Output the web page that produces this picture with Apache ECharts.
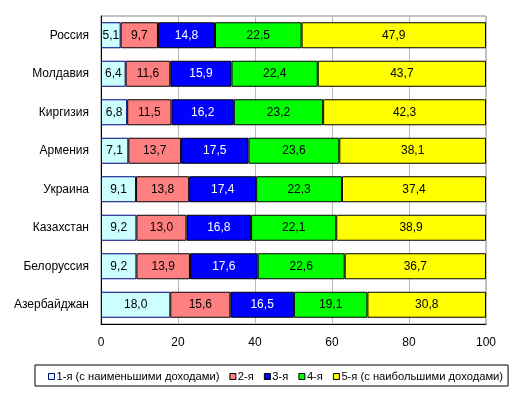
<!DOCTYPE html>
<html><head><meta charset="utf-8">
<script src="https://cdn.jsdelivr.net/npm/echarts@6/dist/echarts.min.js"></script>
<style>html,body{margin:0;padding:0;background:#fff}#c{width:513px;height:395px}</style>
</head><body><div id="c"></div>
<script>
var categories = ['Россия','Молдавия','Киргизия','Армения','Украина','Казахстан','Белоруссия','Азербайджан'];
var seriesNames = ['1-я (с наименьшими доходами)','2-я','3-я','4-я','5-я (с наибольшими доходами)'];
var q1 = [5.1, 6.4, 6.8, 7.1, 9.1, 9.2, 9.2, 18.0];
var q2 = [9.7, 11.6, 11.5, 13.7, 13.8, 13.0, 13.9, 15.6];
var q3 = [14.8, 15.9, 16.2, 17.5, 17.4, 16.8, 17.6, 16.5];
var q4 = [22.5, 22.4, 23.2, 23.6, 22.3, 22.1, 22.6, 19.1];
var q5 = [47.9, 43.7, 42.3, 38.1, 37.4, 38.9, 36.7, 30.8];
var xTicks = [0, 20, 40, 60, 80, 100];

var values = [q1, q2, q3, q4, q5];
var colors = ['#CCFFFF', '#FF8080', '#0000FF', '#00FF00', '#FFFF00'];
var borders = ['#000080', '#000000', '#000000', '#000000', '#000000'];
var labelColors = ['#000', '#000', '#fff', '#000', '#000'];
var font = 'Arial, "Liberation Sans", sans-serif';

var chart = echarts.init(document.getElementById('c'), null, {renderer: 'canvas'});
chart.setOption({
  animation: false,
  textStyle: {fontFamily: font},
  grid: {left: 101, right: 27, top: 16, bottom: 71, show: true, borderColor: '#888', borderWidth: 1},
  xAxis: {
    type: 'value', min: xTicks[0], max: xTicks[xTicks.length - 1], interval: 20,
    axisLine: {show: true, lineStyle: {color: '#000'}},
    axisTick: {show: false},
    axisLabel: {color: '#000', fontSize: 12, fontFamily: font, margin: 13},
    splitLine: {show: true, lineStyle: {color: '#BBBBBB'}}
  },
  yAxis: {
    type: 'category', data: categories, inverse: true,
    axisLine: {show: true, lineStyle: {color: '#000'}},
    axisTick: {show: false},
    axisLabel: {color: '#000', fontSize: 12, fontFamily: font, margin: 12}
  },
  legend: {
    left: 35, top: 365, width: 470, height: 20,
    padding: [6, 5, 4, 13],
    borderColor: '#000', borderWidth: 1,
    itemWidth: 6, itemHeight: 6, itemGap: 10,
    textStyle: {color: '#000', fontSize: 11.2, fontFamily: font, padding: [0, 0, 0, -3]},
    data: seriesNames.map(function (n, i) { return {name: n, icon: 'rect', itemStyle: {borderColor: i === 0 ? '#000080' : '#000', borderWidth: 1}}; })
  },
  series: values.map(function (v, i) {
    return {
      name: seriesNames[i], type: 'bar', stack: 'all', barWidth: 26,
      data: v,
      itemStyle: {color: colors[i], borderColor: borders[i], borderWidth: 1},
      label: {
        show: true, position: 'inside', color: labelColors[i], fontSize: 12, fontFamily: font,
        formatter: function (p) { return p.value.toFixed(1).replace('.', ','); }
      }
    };
  })
});
</script></body></html>
